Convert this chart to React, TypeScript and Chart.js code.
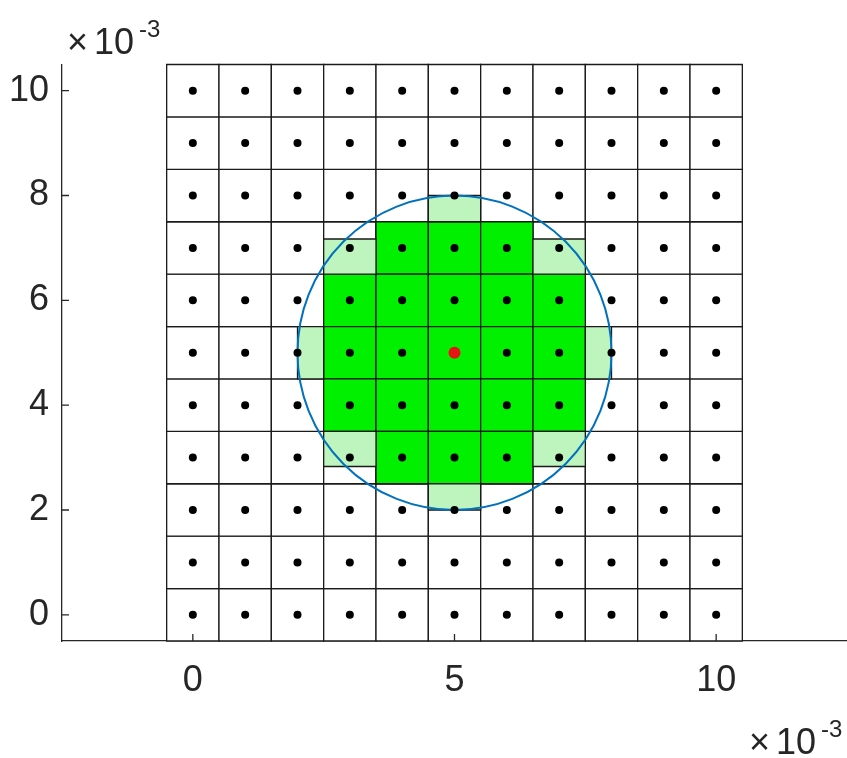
import React, { useEffect, useRef } from "react";
import { Chart, registerables } from "chart.js";

Chart.register(...registerables);

// ---- data (units of 1e-3) ----
const xTicks = [0, 5, 10];
const yTicks = [0, 2, 4, 6, 8, 10];
const gridX = [0, 1, 2, 3, 4, 5, 6, 7, 8, 9, 10];
const gridY = [0, 1, 2, 3, 4, 5, 6, 7, 8, 9, 10];
const cellHalf = 0.5;
const xRange = [-2.5, 12.5];
const yRange = [-0.5, 10.5];

// fully covered cells [x, y]
const fullGreenCells: [number, number][] = [
  [4, 7], [5, 7], [6, 7],
  [3, 6], [4, 6], [5, 6], [6, 6], [7, 6],
  [3, 5], [4, 5], [5, 5], [6, 5], [7, 5],
  [3, 4], [4, 4], [5, 4], [6, 4], [7, 4],
  [4, 3], [5, 3], [6, 3],
];

// partially covered cells [x0, x1, y0, y1]
const partialGreenRects: [number, number, number, number][] = [
  [4.5, 5.5, 7.5, 8.0],
  [2.5, 3.5, 6.5, 7.17],
  [6.5, 7.5, 6.5, 7.17],
  [2.0, 2.5, 4.5, 5.5],
  [7.5, 8.0, 4.5, 5.5],
  [2.5, 3.5, 2.83, 3.5],
  [6.5, 7.5, 2.83, 3.5],
  [4.5, 5.5, 2.0, 2.5],
];

const circleCenter = [5, 5];
const circleRadius = 3;
const centerPoint = [5, 5];

const TEXT = "#262626";
const FONT = "'Liberation Sans', Arial, sans-serif";

const cellsPlugin = {
  id: "cells",
  beforeDatasetsDraw(chart: any) {
    const { ctx } = chart;
    const xs = chart.scales.x;
    const ys = chart.scales.y;
    const rect = (x0: number, x1: number, y0: number, y1: number, fill: string | null) => {
      const px0 = xs.getPixelForValue(x0);
      const px1 = xs.getPixelForValue(x1);
      const py0 = ys.getPixelForValue(y0);
      const py1 = ys.getPixelForValue(y1);
      ctx.beginPath();
      ctx.rect(px0, py1, px1 - px0, py0 - py1);
      if (fill) {
        ctx.fillStyle = fill;
        ctx.fill();
      }
      ctx.stroke();
    };
    ctx.save();
    ctx.strokeStyle = "#1a1a1a";
    ctx.lineWidth = 1.3;
    for (const gx of gridX) {
      for (const gy of gridY) {
        rect(gx - cellHalf, gx + cellHalf, gy - cellHalf, gy + cellHalf, "#ffffff");
      }
    }
    for (const [gx, gy] of fullGreenCells) {
      rect(gx - cellHalf, gx + cellHalf, gy - cellHalf, gy + cellHalf, "rgb(0,240,0)");
    }
    for (const [x0, x1, y0, y1] of partialGreenRects) {
      rect(x0, x1, y0, y1, "rgb(190,245,190)");
    }
    // circle
    const cx = xs.getPixelForValue(circleCenter[0]);
    const cy = ys.getPixelForValue(circleCenter[1]);
    const rx = Math.abs(xs.getPixelForValue(circleCenter[0] + circleRadius) - cx);
    const ry = Math.abs(ys.getPixelForValue(circleCenter[1] + circleRadius) - cy);
    ctx.beginPath();
    ctx.ellipse(cx, cy, rx, ry, 0, 0, Math.PI * 2);
    ctx.strokeStyle = "#0072BD";
    ctx.lineWidth = 2;
    ctx.stroke();
    ctx.restore();
  },
  afterDraw(chart: any) {
    const { ctx, chartArea } = chart;
    const xs = chart.scales.x;
    const ys = chart.scales.y;
    ctx.save();
    ctx.strokeStyle = TEXT;
    ctx.lineWidth = 1.3;
    ctx.beginPath();
    for (const t of yTicks) {
      const py = ys.getPixelForValue(t);
      ctx.moveTo(chartArea.left, py);
      ctx.lineTo(chartArea.left + 7, py);
    }
    for (const t of xTicks) {
      const px = xs.getPixelForValue(t);
      ctx.moveTo(px, chartArea.bottom);
      ctx.lineTo(px, chartArea.bottom - 7);
    }
    ctx.stroke();

    // exponent labels
    const drawExp = (x: number, baseline: number) => {
      ctx.fillStyle = TEXT;
      ctx.textAlign = "left";
      ctx.textBaseline = "alphabetic";
      ctx.font = `36px ${FONT}`;
      ctx.fillText("\u00d7", x, baseline);
      ctx.fillText("10", x + 27, baseline);
      ctx.font = `24px ${FONT}`;
      ctx.fillText("-3", x + 72, baseline - 17);
    };
    drawExp(67, 54);
    drawExp(749, 754);
    ctx.restore();
  },
};

export default function App() {
  const ref = useRef<HTMLCanvasElement>(null);
  useEffect(() => {
    const dots = [] as { x: number; y: number }[];
    for (const gx of gridX) for (const gy of gridY) dots.push({ x: gx, y: gy });
    const chart = new Chart(ref.current as HTMLCanvasElement, {
      type: "scatter",
      data: {
        datasets: [
          {
            data: [{ x: centerPoint[0], y: centerPoint[1] }],
            pointRadius: 6,
            pointBackgroundColor: "rgb(230,20,20)",
            pointBorderWidth: 0,
          },
          {
            data: dots,
            pointRadius: 4,
            pointBackgroundColor: "#000",
            pointBorderWidth: 0,
            pointHoverRadius: 4,
          },
        ],
      },
      options: {
        animation: false,
        responsive: false,
        devicePixelRatio: 1,
        events: [],
        layout: { autoPadding: false, padding: { top: 64.5, right: 0, bottom: 0, left: 0 } },
        plugins: { legend: { display: false }, tooltip: { enabled: false } },
        scales: {
          x: {
            type: "linear",
            min: xRange[0],
            max: xRange[1],
            afterBuildTicks: (s: any) => {
              s.ticks = xTicks.map((v) => ({ value: v }));
            },
            afterFit: (s: any) => {
              s.height = 117;
              s.paddingLeft = 0;
              s.paddingRight = 0;
            },
            grid: { display: true, drawOnChartArea: false, drawTicks: false },
            border: { display: true, color: TEXT, width: 1.3 },
            ticks: {
              color: TEXT,
              font: { size: 36, family: FONT },
              padding: 18,
              maxRotation: 0,
              autoSkip: false,
            },
          },
          y: {
            type: "linear",
            min: yRange[0],
            max: yRange[1],
            afterBuildTicks: (s: any) => {
              s.ticks = yTicks.map((v) => ({ value: v }));
            },
            afterFit: (s: any) => {
              s.width = 62;
              s.paddingTop = 0;
              s.paddingBottom = 0;
            },
            grid: { display: true, drawOnChartArea: false, drawTicks: false },
            border: { display: true, color: TEXT, width: 1.3 },
            ticks: {
              color: TEXT,
              font: { size: 36, family: FONT },
              padding: 13,
              autoSkip: false,
            },
          },
        },
      },
      plugins: [cellsPlugin],
    });
    return () => chart.destroy();
  }, []);
  return (
    <div style={{ position: "fixed", left: 0, top: 0, width: 847, height: 758, background: "#fff" }}>
      <canvas ref={ref} width={847} height={758} style={{ display: "block" }} />
    </div>
  );
}
